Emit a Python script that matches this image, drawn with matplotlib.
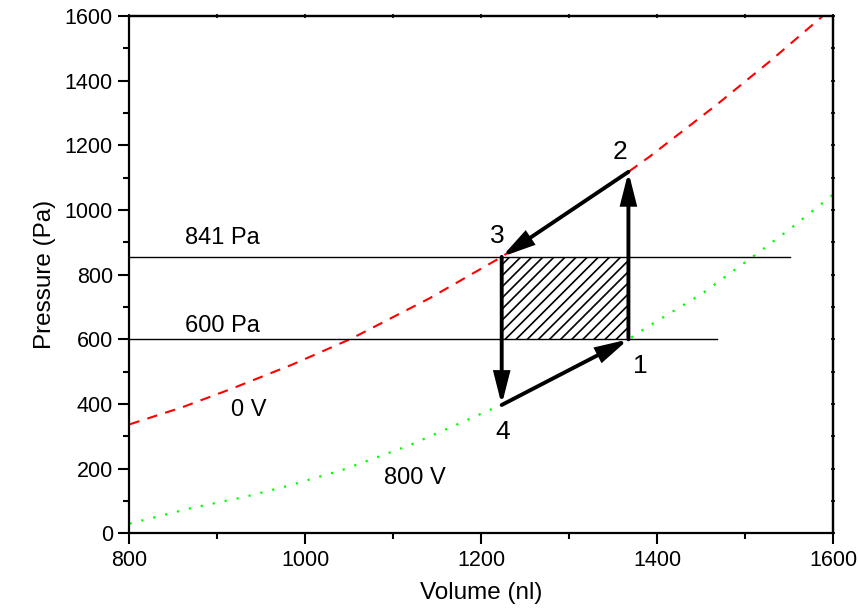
import matplotlib
matplotlib.use("Agg")
import matplotlib.pyplot as plt
from matplotlib.ticker import MultipleLocator

plt.rcParams['font.family'] = ['Liberation Sans', 'DejaVu Sans']
plt.rcParams['hatch.linewidth'] = 1.2

# Curves
red_v = [800, 860, 914, 985, 1052, 1141, 1223, 1300, 1367, 1391, 1467, 1530, 1590]
red_p = [337, 390, 445, 522, 602, 727, 855, 995, 1118, 1165, 1325, 1465, 1605]
green_v = [800, 870, 930, 979, 1042, 1117, 1160, 1218, 1290, 1367, 1390, 1450, 1502, 1550, 1600]
green_p = [30, 78, 112, 146, 196, 271, 322, 392, 491, 600, 641, 740, 843, 940, 1049]

# Cycle points (V, P)
cyc_v = [1367, 1367, 1223, 1223]
cyc_p = [600, 1118, 855, 397]
cyc_labels = ['1', '2', '3', '4']
label_v = [1381, 1357, 1218, 1224]
label_p = [518, 1179, 920, 313]

# Reference pressure lines
hline_p = [855, 600]
hline_end = [1551, 1468]
hline_labels = ['841 Pa', '600 Pa']

fig = plt.figure(figsize=(8.58, 6.16), dpi=100)
ax = fig.add_axes([0.1509, 0.1342, 0.8205, 0.8398])

ax.plot(red_v, red_p, color='#ff0000', lw=1.5, dashes=(5, 4), zorder=2)
ax.plot(green_v, green_p, color='#00ff00', lw=1.6, dashes=(1, 4.5), zorder=2)

for p, e in zip(hline_p, hline_end):
    ax.plot([800, e], [p, p], color='black', lw=1.0, zorder=3)

# hatched work area
ax.fill_between([cyc_v[2], cyc_v[0]], hline_p[1], hline_p[0], facecolor='none',
                edgecolor='black', hatch='///', lw=0, zorder=1)

# arrows 1->2->3->4->1
for i in range(4):
    j = (i + 1) % 4
    ax.annotate('', xy=(cyc_v[j], cyc_p[j]), xytext=(cyc_v[i], cyc_p[i]),
                arrowprops=dict(arrowstyle='-|>,head_length=1.5,head_width=0.38',
                                mutation_scale=12, lw=2.8, color='black',
                                shrinkA=0, shrinkB=0, joinstyle='miter'), zorder=4)

for t, x, y in zip(cyc_labels, label_v, label_p):
    ax.text(x, y, t, fontsize=19, ha='center', va='center')

ax.text(906, 913, hline_labels[0], fontsize=17, ha='center', va='center')
ax.text(906, 641, hline_labels[1], fontsize=17, ha='center', va='center')
ax.text(935, 381, '0 V', fontsize=17, ha='center', va='center')
ax.text(1124, 171, '800 V', fontsize=17, ha='center', va='center')

ax.set_xlim(800, 1600)
ax.set_ylim(0, 1600)
ax.xaxis.set_major_locator(MultipleLocator(200))
ax.xaxis.set_minor_locator(MultipleLocator(100))
ax.yaxis.set_major_locator(MultipleLocator(200))
ax.yaxis.set_minor_locator(MultipleLocator(100))
ax.tick_params(which='major', direction='out', length=8, width=1.5, labelsize=15.5,
               top=False, right=False, pad=4)
ax.tick_params(which='minor', direction='out', length=4.5, width=1.5,
               top=False, right=False)
ax.set_xlabel('Volume (nl)', fontsize=17.5, labelpad=8)
ax.set_ylabel('Pressure (Pa)', fontsize=17.5, labelpad=6)
for s in ax.spines.values():
    s.set_linewidth(1.6)

# tiny ticks on top and right
sec = ax.secondary_xaxis('top')
sec.xaxis.set_major_locator(MultipleLocator(100))
sec.tick_params(direction='inout', length=2.5, width=1.2, labeltop=False)
sec.spines['top'].set_linewidth(1.6)
secy = ax.secondary_yaxis('right')
secy.yaxis.set_major_locator(MultipleLocator(100))
secy.tick_params(direction='inout', length=2.5, width=1.2, labelright=False)
secy.spines['right'].set_linewidth(1.6)

fig.savefig('out.png', dpi=100)
